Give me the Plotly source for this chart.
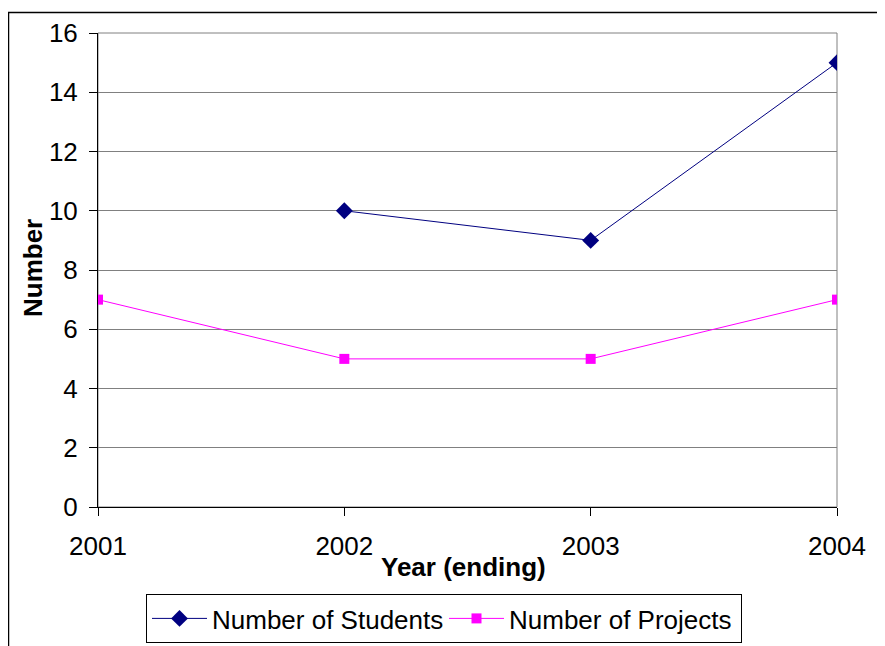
import plotly.graph_objects as go

years = [2001, 2002, 2003, 2004]
year_labels = ["2001", "2002", "2003", "2004"]
students = [None, 10, 9, 15]
projects = [7, 5, 5, 7]
y_ticks = [0, 2, 4, 6, 8, 10, 12, 14, 16]

FONT = "Liberation Sans, Arial, sans-serif"
FS = 26

# page body has an 8px margin; compensate so the screenshot lines up
OFF = 8
W, H = 885 - OFF, 646 - OFF
L, T = 98 - OFF, 33 - OFF
pw, ph = 739, 474
R = W - L - pw
B = H - T - ph


def px_x(px):
    return (px - OFF - L) / pw


def px_y(py):
    return (T + ph - (py - OFF)) / ph


def cy(py):
    return 1 - (py - OFF) / H


fig = go.Figure()
fig.add_trace(go.Scatter(
    x=years, y=students, name="Number of Students", mode="lines+markers",
    line=dict(color="#000080", width=1),
    marker=dict(symbol="diamond", size=13, color="#000080"),
))
fig.add_trace(go.Scatter(
    x=years, y=projects, name="Number of Projects", mode="lines+markers",
    line=dict(color="#FF00FF", width=1),
    marker=dict(symbol="square", size=10, color="#FF00FF"),
))

fig.update_layout(
    width=W, height=H,
    margin=dict(l=L, r=R, t=T, b=B, pad=0, autoexpand=False),
    paper_bgcolor="white", plot_bgcolor="white",
    font=dict(family=FONT, size=FS, color="black"),
    showlegend=True,
    legend=dict(
        orientation="h", xref="container", yref="container",
        x=(444 - OFF) / W, xanchor="center",
        y=cy(594), yanchor="top",
        bordercolor="black", borderwidth=1,
        font=dict(size=FS, family=FONT),
        itemwidth=55, tracegroupgap=0,
        entrywidth=227, entrywidthmode="pixels",
    ),
    xaxis=dict(
        range=[2001, 2004], tickvals=years, ticktext=year_labels,
        showgrid=False, zeroline=False,
        showline=True, linecolor="black", linewidth=1,
        ticks="outside", ticklen=8, tickcolor="black",
        ticklabelstandoff=8,
        tickfont=dict(size=FS),
    ),
    yaxis=dict(
        range=[0, 16], tickvals=y_ticks,
        showgrid=True, gridcolor="#808080", gridwidth=1,
        zeroline=False,
        showline=True, linecolor="black", linewidth=1,
        ticks="outside", ticklen=8, tickcolor="black",
        ticklabelstandoff=6,
        tickfont=dict(size=FS),
    ),
    shapes=[
        dict(type="rect", xref="paper", yref="paper",
             x0=0, x1=1, y0=0, y1=1,
             line=dict(color="#808080", width=1), layer="below"),
        dict(type="rect", xref="paper", yref="paper",
             x0=px_x(8.5), x1=px_x(920), y0=px_y(680), y1=px_y(12.5),
             line=dict(color="black", width=1.5), layer="above"),
    ],
    annotations=[
        dict(text="<b>Year (ending)</b>", xref="paper", yref="paper",
             x=px_x(463), y=px_y(567), xanchor="center", yanchor="middle",
             showarrow=False, font=dict(size=FS, family=FONT)),
        dict(text="<b>Number</b>", xref="paper", yref="paper",
             x=px_x(33), y=px_y(268), xanchor="center", yanchor="middle",
             textangle=-90, showarrow=False, font=dict(size=FS, family=FONT)),
    ],
)

fig.write_html("out.html")
